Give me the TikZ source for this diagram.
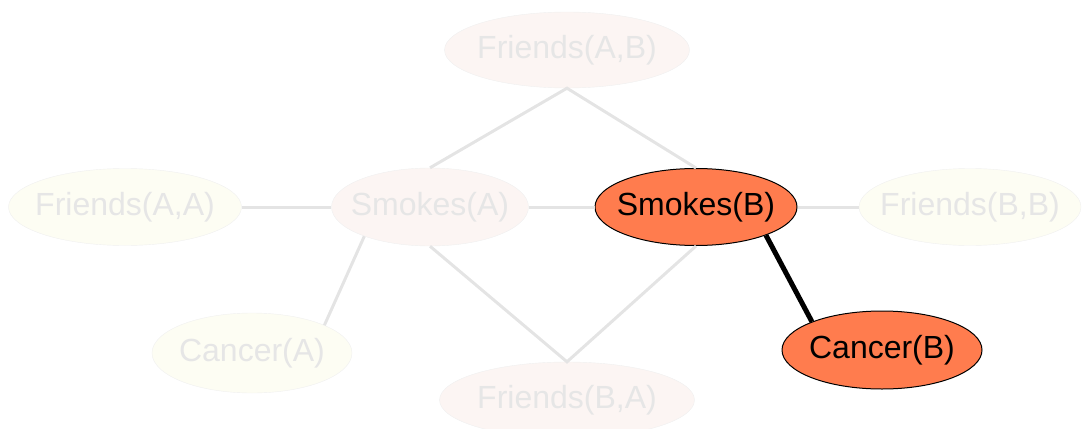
\documentclass[tikz,border=0pt]{standalone}
\usepackage{fontspec}
\setmainfont{Liberation Sans}
\usetikzlibrary{shapes.geometric}
\definecolor{hot}{HTML}{FF7C4E}
\definecolor{fadey}{HTML}{FDFDF3}
\definecolor{fadep}{HTML}{FCF5F3}
\definecolor{fadetext}{HTML}{E6E6E6}
\definecolor{fadeline}{HTML}{E4E4E4}
\definecolor{fadeborder}{HTML}{F0F0F0}
\newcommand{\zw}[1]{\makebox[0pt]{#1}}
\tikzset{
  base/.style={ellipse, inner sep=0pt, font=\fontsize{32}{36}\selectfont},
  fadedy/.style={base, fill=fadey, draw=fadeborder, text=fadetext},
  fadedp/.style={base, fill=fadep, draw=fadeborder, text=fadetext},
  active/.style={base, fill=hot, draw=black, line width=1pt, text=black},
  fadeedge/.style={draw=fadeline, line width=3pt},
  hotedge/.style={draw=black, line width=5pt},
}
\begin{document}
\begin{tikzpicture}[x=1pt,y=-1pt]
\useasboundingbox (0,0) rectangle (1083,428);
\node[fadedp, minimum width=245pt, minimum height=76pt] (fab) at (567,50) {\zw{Friends(A,B)}};
\node[fadedy, minimum width=233pt, minimum height=77pt] (faa) at (125,207) {\zw{Friends(A,A)}};
\node[fadedp, minimum width=197pt, minimum height=78pt] (sa) at (430,207) {\zw{Smokes(A)}};
\node[fadedy, minimum width=222pt, minimum height=77pt] (fbb) at (970,207) {\zw{Friends(B,B)}};
\node[fadedy, minimum width=200pt, minimum height=80pt] (ca) at (252,353) {\zw{Cancer(A)}};
\node[fadedp, minimum width=255pt, minimum height=76pt] (fba) at (567,400) {\zw{Friends(B,A)}};
\node[active, minimum width=202pt, minimum height=77pt] (sb) at (696,207) {\zw{Smokes(B)}};
\node[active, minimum width=200pt, minimum height=78pt] (cb) at (882,350) {\zw{Cancer(B)}};

\draw[fadeedge] (faa) -- (sa);
\draw[fadeedge] (sa) -- (sb);
\draw[fadeedge] (sb) -- (fbb);
\draw[fadeedge] (sa.north) -- (fab.south) -- (sb.north);
\draw[fadeedge] (sa.south) -- (fba.north) -- (sb.south);
\draw[fadeedge] (sa.204) -- (ca.21);
\draw[hotedge] (sb.338) -- (cb.158);
\end{tikzpicture}
\end{document}
